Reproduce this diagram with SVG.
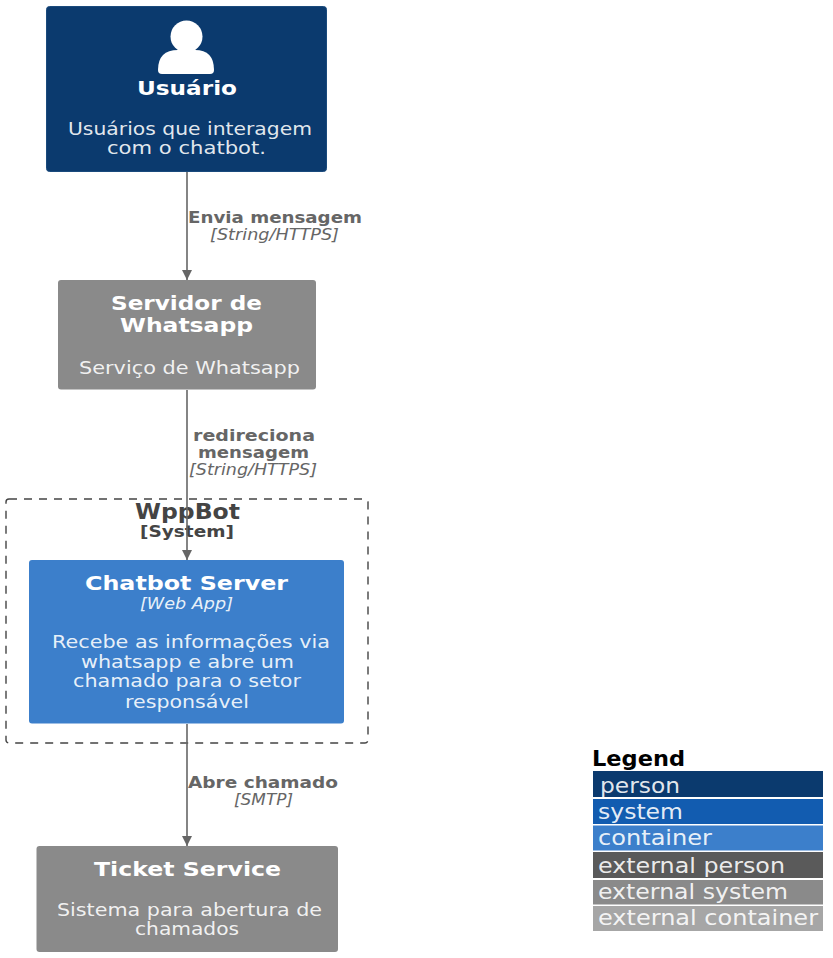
<svg xmlns="http://www.w3.org/2000/svg" width="833" height="958" viewBox="0 0 833 958">
<style>
text{font-family:"DejaVu Sans",sans-serif;text-anchor:middle}
.t{font-weight:700;font-size:20px;fill:#fff}
.d{font-size:17.5px;fill:#fff;fill-opacity:.9}
.s{font-style:italic;font-size:15px;fill:#fff;fill-opacity:.9}
.l{font-weight:700;font-size:15.5px;fill:#666}
.i{font-style:italic;font-size:15px;fill:#666}
.e{stroke:#666;stroke-width:1.6;fill:none}
.g{font-size:22px;fill:#fff;fill-opacity:.9;text-anchor:start}
</style>
<defs><marker id="a" markerWidth="12" markerHeight="12" refX="10" refY="5" orient="auto" markerUnits="userSpaceOnUse"><path d="M0 0L10 5L0 10z" fill="#666"/></marker></defs>
<rect width="833" height="958" fill="#fff"/>
<g id="boundary"><rect x="6" y="499" width="362" height="244" rx="3" fill="none" stroke="#444" stroke-width="1.4" stroke-dasharray="8 7"/>
<text x="187.500" y="519" font-weight="700" font-size="20.500" fill="#444" textLength="105" lengthAdjust="spacingAndGlyphs">WppBot</text>
<text x="187" y="537" font-weight="700" font-size="15.500" fill="#444" textLength="94" lengthAdjust="spacingAndGlyphs">[System]</text></g>
<g id="usuario"><rect x="46.500" y="6.500" width="280" height="165" rx="3" fill="#0b3a6e" stroke="#1a4a7c"/>
<circle cx="186.500" cy="36.500" r="16" fill="#fff"/><path d="M162 74Q158 74 158 70Q158 50 178 50H195Q214 50 214 70Q214 74 210 74z" fill="#fff"/>
<text class="t" x="187" y="95" textLength="100" lengthAdjust="spacingAndGlyphs">Usuário</text><text class="d" x="190" y="135" textLength="244" lengthAdjust="spacingAndGlyphs">Usuários que interagem</text><text class="d" x="186.500" y="154" textLength="159" lengthAdjust="spacingAndGlyphs">com o chatbot.</text></g>
<g id="whatsapp"><rect x="58" y="280" width="258" height="109.500" rx="3" fill="#8a8a8a"/>
<text class="t" x="186.500" y="310" textLength="151" lengthAdjust="spacingAndGlyphs">Servidor de</text><text class="t" x="186.500" y="332" textLength="133" lengthAdjust="spacingAndGlyphs">Whatsapp</text><text class="d" x="189.500" y="374" textLength="221" lengthAdjust="spacingAndGlyphs">Serviço de Whatsapp</text></g>
<g id="chatbot"><rect x="29" y="560" width="315" height="163.500" rx="3" fill="#3c7fcb"/>
<text class="t" x="186.500" y="590" textLength="203" lengthAdjust="spacingAndGlyphs">Chatbot Server</text><text class="s" x="186.500" y="609" textLength="93" lengthAdjust="spacingAndGlyphs">[Web App]</text>
<text class="d" x="191" y="648" textLength="278" lengthAdjust="spacingAndGlyphs">Recebe as informações via</text><text class="d" x="187.500" y="668" textLength="213" lengthAdjust="spacingAndGlyphs">whatsapp e abre um</text><text class="d" x="187" y="687" textLength="228" lengthAdjust="spacingAndGlyphs">chamado para o setor</text><text class="d" x="187" y="708" textLength="124" lengthAdjust="spacingAndGlyphs">responsável</text></g>
<g id="ticket"><rect x="36.500" y="846" width="301.500" height="106" rx="3" fill="#8a8a8a"/>
<text class="t" x="187.500" y="876" textLength="187" lengthAdjust="spacingAndGlyphs">Ticket Service</text><text class="d" x="189.500" y="916" textLength="265" lengthAdjust="spacingAndGlyphs">Sistema para abertura de</text><text class="d" x="187" y="935" textLength="104" lengthAdjust="spacingAndGlyphs">chamados</text></g>
<g id="connectors">
<path class="e" d="M187 172V280" marker-end="url(#a)"/><path class="e" d="M187 390V560" marker-end="url(#a)"/><path class="e" d="M187 724V846" marker-end="url(#a)"/>
<text class="l" x="275" y="223" textLength="174" lengthAdjust="spacingAndGlyphs">Envia mensagem</text><text class="i" x="274.500" y="240" textLength="129" lengthAdjust="spacingAndGlyphs">[String/HTTPS]</text>
<text class="l" x="254" y="441" textLength="122" lengthAdjust="spacingAndGlyphs">redireciona</text><text class="l" x="253.500" y="458" textLength="111" lengthAdjust="spacingAndGlyphs">mensagem</text><text class="i" x="253" y="475" textLength="128" lengthAdjust="spacingAndGlyphs">[String/HTTPS]</text>
<text class="l" x="263" y="788" textLength="150" lengthAdjust="spacingAndGlyphs">Abre chamado</text><text class="i" x="263.500" y="805" textLength="59" lengthAdjust="spacingAndGlyphs">[SMTP]</text>
</g>
<g id="legend"><text x="638.500" y="766" font-weight="700" font-size="22" fill="#000" textLength="93" lengthAdjust="spacingAndGlyphs">Legend</text>
<rect x="593" y="771" width="230" height="26" fill="#0b3a6e"/><rect x="593" y="799" width="230" height="25" fill="#125cb0"/><rect x="593" y="825.500" width="230" height="25" fill="#3c7fcb"/><rect x="593" y="852" width="230" height="26" fill="#5a5a5a"/><rect x="593" y="880" width="230" height="24.500" fill="#8a8a8a"/><rect x="593" y="906" width="230" height="25" fill="#a6a6a6"/>
<text class="g" x="600" y="793" textLength="80" lengthAdjust="spacingAndGlyphs">person</text><text class="g" x="598" y="819" textLength="85" lengthAdjust="spacingAndGlyphs">system</text><text class="g" x="598" y="845" textLength="114" lengthAdjust="spacingAndGlyphs">container</text><text class="g" x="598" y="873" textLength="187" lengthAdjust="spacingAndGlyphs">external person</text><text class="g" x="598" y="899" textLength="190" lengthAdjust="spacingAndGlyphs">external system</text><text class="g" x="598" y="925" textLength="220" lengthAdjust="spacingAndGlyphs">external container</text></g>
</svg>
